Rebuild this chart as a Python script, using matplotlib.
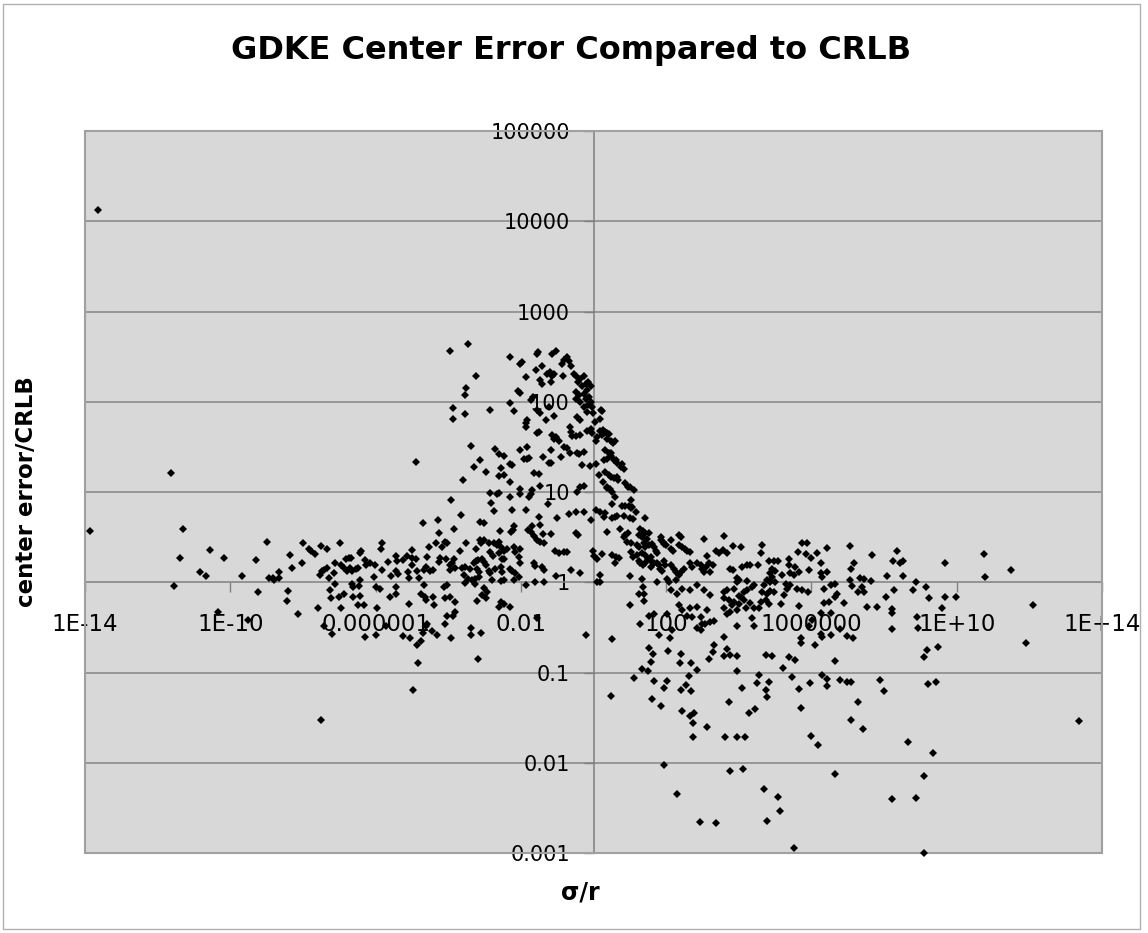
import matplotlib
matplotlib.use("Agg")
import matplotlib.pyplot as plt
import numpy as np
from matplotlib.patches import Rectangle

# log10(sigma/r) and log10(center error / CRLB)
log_sigma_r = [
    -13.64,
    -11.64, -13.87, -11.29, -11.38, -10.55, -10.18, -10.83, -10.66, -11.54, -9.69, -9.30, -8.98, -9.24, -8.93, -8.83, -8.79, -8.65, -8.65, -10.35, -9.50,
    -3.95, -3.46, -3.23, -3.52, -3.54, -3.86, -3.86, -3.55, -3.36, -3.30, -3.13, -4.88, -3.59, -3.91, -3.64, -4.70, -4.29, -4.24, -3.83, -3.13,
    -7.99, -7.84, -7.78, -7.68, -7.51, -7.35, -6.98, -5.82, -5.84, -8.35, -8.30, -8.03, -8.40, -7.43, -7.47, -7.35, -7.52, -7.29, -7.15, -7.12,
    -6.94, -6.81, -6.74, -6.67, -6.88, -6.79, -6.71, -6.65, -6.54, -6.48, -6.41, -6.44, -6.28, -6.25, -6.16, -6.01, -5.82, -5.67, -5.57, -5.45,
    -5.41, -5.44, -5.39, -5.24, -5.13, -5.01, -4.99, -4.89, -5.00, -4.87, -5.11, -5.09, -4.81, -4.67, -4.58, -4.54, -4.60, -4.51, -4.42, -4.34,
    -4.26, -4.22, -4.16, -4.10, -4.03, -4.07, -3.96, -3.90, -3.85, -3.94, -3.82, -3.68, -3.62, -3.53, -3.51, -3.39, -3.23, -3.19, -3.13, -3.24,
    -3.57, -3.46, -3.34, -3.25, -3.15, -7.11, -6.88, -6.62, -6.45, -6.42, -6.65, -6.05, -5.87, -5.98, -5.59, -5.45, -4.67, -4.75, -4.63, -4.12,
    -4.03, -4.42, -3.94, -3.53, -3.26, -7.24, -6.63, -7.01, -6.42, -7.26,
    -8.14, -7.58, -6.49, -6.33, -6.94, -7.43, -7.20, -6.28, -5.98, -5.96, -5.70, -5.44, -5.09, -5.24, -5.04, -4.86, -4.75, -4.69, -4.84, -4.97,
    -7.49, -4.60, -4.38, -4.09, -3.80, -4.58, -4.61, -4.44, -4.31, -4.08, -4.03, -3.87, -3.80, -3.91, -3.37, -3.37, -3.19, -3.21, -8.44,
    -2.30, -1.98, -2.01, -1.53, -1.55, -1.14, -1.02, -0.73, -0.80, -0.86, -0.68, -0.63, -1.41, -1.57, -1.46, -1.41, -1.28, -1.20, -1.14, -1.09,
    -1.18, -1.85, -2.07, -2.01, -0.84,
    -0.54, -0.47, -0.43, -0.36, -0.27, -0.31, -0.22, -0.16, -0.08, -0.17, -0.27, -0.47, -0.40, -0.47, -0.36, -0.22, -0.13, -0.08, -0.16, -0.04,
    -0.01, -0.19, -0.27, -0.45, -0.36, -0.08, -0.17, 0.03, -0.04,
    -1.66, -1.73, -1.55, -1.46, -1.32, -1.09, -1.23,
    -2.30, -2.19, -2.84, -1.83, -1.85, -1.87, -1.55, -1.51, -1.14, -1.02, -0.96, -1.09, -0.65, -0.63, -0.59, -0.47, -0.38, -0.80, -0.73, -1.18,
    -0.89, -0.65, -0.45, -0.40, -0.27, 0.06, 0.10,
    -2.03, -1.83, -1.92, -1.83, -1.78, -2.70, -2.61, -2.47, -2.29, -2.24, -2.97, -2.56, -2.47, -2.61, -1.64, -1.51, -1.39, -1.23, -1.18, -0.31,
    -0.10, 0.06, -2.29, -1.46, -2.84, -2.65, -2.61, -2.29, -2.01, -2.01, -1.78, -1.73, -1.69, -2.82, -1.26, -0.45, -0.36, -0.27, 0.15,
    -2.73, -2.24, -1.87, -1.50, -1.00, -0.68, -0.47, -0.27, -0.06, 0.08,
    -3.02, -2.19, -2.27, -2.21, -2.58, -1.69, -1.73, -1.81, -1.46, -1.64, -1.55, -1.48, -1.35, -1.39, -1.18, -0.47, -0.43, -1.05, -0.96, -0.82,
    -0.73, -0.01, 0.01, 0.10,
    -3.02, -3.11, -2.88, -2.74, -2.61, -2.67, -2.56, -2.47, -2.38, -2.19, -2.15, -2.01, -2.06, -2.84, -2.76, -2.61, -2.51, -2.47,
    -3.07, -3.02, -2.95, -3.29, -3.20, -3.16, -2.88, -2.84, -2.70, -2.54, -2.51, -2.29, -2.24, -2.15, -2.06, -2.19, -2.01, -1.64, -1.60, -1.41,
    -1.35, -1.02, -0.63, -0.36,
    -2.79, -2.54, -2.47, -1.87, -1.60, -1.35, -3.02, -2.93, -3.07, -2.97, -2.56, -2.47, -2.30, -2.61, -1.55, -3.11, -0.22, 0.10,
    0.21, 0.24, 0.19, 0.19, 0.27, 0.33, 0.28, 0.38, 0.42, 0.24, 0.36, 0.47, 0.54, 0.58,
    0.33, 0.42, 0.49, 0.36, 0.28, 0.47, 0.56, 0.61, 0.65, 0.79, 0.84, 0.76,
    0.33, 0.42, 0.49, 0.56, 0.65, 0.67,
    0.27, 0.38, 0.36, 0.45, 0.51, 0.58, 0.51,
    0.88, 0.95, 1.00, 1.11,
    0.79, 0.88, 0.97, 1.02, 1.06, 1.02,
    0.19, 0.33, 0.28, 0.51, 0.58, 0.65, 0.84, 1.00, 1.09, 1.18, 1.43,
    0.36, 0.74, 0.88, 0.95, 0.84, 1.02, 0.93,
    1.29, 1.37, 1.43, 1.52, 1.25, 1.34, 1.48,
    1.85, 1.86, 1.92, 1.94, 2.12, 2.35, 2.40, 3.04,
    1.20, 1.25, 1.39, 1.43, 1.52, 1.62, 1.66, 1.71, 1.75,
    1.99, 2.14, 2.19, 2.35, 2.44, 2.53, 2.58, 2.67,
    1.02, 1.09, 1.20, 1.25, 1.34, 1.43, 1.50, 1.57, 1.62,
    0.51, 0.61, 0.70, 0.58, 0.24,
    1.28, 1.37, 1.43, 1.57, 1.66, 1.75, 1.80, 1.84, 1.89,
    1.94, 1.98, 2.12, 2.21, 2.26, 2.35, 2.40, 2.49, 2.67, 2.72, 2.85, 2.95, 2.99, 3.04, 3.11, 3.18, 3.22, 3.29, 3.36, 3.45, 3.13,
    0.19, 0.19, 1.00, 1.34, 1.37, 1.75, 2.01, 2.07, 2.26,
    1.39, 1.25, 2.12, 2.30, 2.44, 2.67, 2.85, 3.04, 3.22,
    1.00, 1.39, 1.28, 1.52, 1.66, 2.03, 2.35, 2.44, 2.58, 2.67, 2.72, 2.85, 2.95, 3.13, 2.99, 3.08, 3.22, 3.33, 2.85, 2.95,
    2.17, 1.80, 2.10, 0.51, 1.52, 1.64, 2.05, 2.41, 1.59, 1.34, 1.50, 2.38, 2.69, 2.85, 3.18, 3.29, 3.33, 1.11, 1.66, 2.03,
    1.94, 2.62, 2.56, 2.41, 2.69, 0.49, 1.62, 1.86, 2.44, 2.67, 2.78, 2.74, 3.13, 2.74, 1.94, 2.29, 2.93, 3.36,
    3.59, 3.57, 3.68, 3.85, 4.05, 4.64, 4.60, 5.75, 5.87, 5.63, 5.84, 6.16, 5.99, 6.43, 7.06, 7.67, 8.36,
    3.77, 3.85, 4.09, 4.23, 4.32, 4.52, 4.83, 4.97, 5.08, 4.92, 5.01, 4.87, 4.92, 5.19, 5.01,
    5.38, 5.38, 5.56, 5.42, 5.52, 5.65, 5.93, 6.25, 6.27, 6.43, 6.30,
    7.17, 7.09, 7.06, 7.33, 7.44, 7.63, 8.09, 8.25, 8.45,
    3.96, 4.00, 4.23, 3.96,
    4.41, 4.69, 4.78, 4.87, 5.29, 5.33, 5.42,
    3.59, 3.68, 3.86, 4.00, 4.05, 4.14, 4.37, 4.23,
    4.64, 4.78, 4.87, 4.97, 4.74, 4.83, 4.60, 4.41, 4.55, 4.32,
    3.59, 3.73, 3.86, 3.82, 4.00, 4.14, 4.19, 3.77, 3.96,
    3.59, 3.68, 4.37, 4.41, 3.96, 3.59,
    5.15, 5.24, 5.61, 5.75, 5.90, 5.65, 6.02, 5.93, 5.70, 5.72, 6.11,
    6.34, 6.53, 6.66, 6.66, 6.71, 6.34, 6.48, 6.89, 6.25, 6.53,
    6.25, 6.30, 6.53, 6.80, 6.98, 7.15,
    7.12, 7.28, 7.44, 7.40, 7.53, 7.81, 8.04, 8.27, 8.22, 8.22, 8.22,
    3.68, 3.59, 3.77, 3.94, 3.94, 4.74, 4.92, 5.38, 5.56, 5.22, 6.64,
    4.55, 4.49, 4.83, 4.08, 4.74, 4.78, 5.47, 5.96, 5.65, 6.30, 6.43, 6.43, 6.80, 6.98, 7.09, 7.88, 7.99,
    3.72, 4.28, 4.44, 5.70, 7.29, 7.10, 7.43, 3.63, 3.94, 4.16, 5.98, 6.18, 3.75, 4.12, 6.64, 4.69, 5.08, 5.13, 4.78, 8.22, 5.53,
    8.52, 10.75, 9.67, 10.77, 11.50, 8.87, 8.79, 9.16, 9.23, 9.67, 9.98, 9.60, 12.09, 8.91, 8.94, 11.92, 9.49, 9.17, 9.10, 9.22, 9.44, 8.53,
    13.38, 8.67, 9.36, 9.11, 8.87, 9.10,
]

log_error_ratio = [
    4.13,
    1.21, 0.57, 0.59, 0.27, 0.36, 0.27, 0.11, 0.07, -0.04, 0.07, 0.25, 0.45, -0.11, 0.05, 0.05, 0.02, 0.11, 0.05, -0.33, -0.42,
    2.56, 2.64, 2.29, 2.15, 2.07, 1.93, 1.81, 1.86, 1.51, 1.28, 1.36, 1.33, 1.13, 0.91, 0.74, 0.66, 0.69, 0.55, 0.59, 0.67,
    0.44, 0.37, 0.35, 0.31, 0.40, 0.37, 0.44, 0.43, 0.37, 0.30, 0.16, 0.21, -0.10, 0.14, 0.13, 0.16, 0.08, 0.05, 0.10, 0.21,
    0.19, 0.26, 0.27, 0.27, 0.16, 0.13, 0.16, 0.13, 0.15, 0.16, 0.35, 0.32, 0.25, 0.19, 0.21, 0.19, 0.14, 0.22, 0.07, 0.29,
    0.23, 0.13, 0.09, 0.25, 0.29, 0.36, 0.27, 0.26, 0.19, 0.13, 0.11, 0.05, 0.05, 0.14, 0.28, 0.39, 0.17, 0.13, 0.14, 0.43,
    0.22, 0.27, 0.39, 0.45, 0.43, 0.26, 0.19, 0.21, 0.26, 0.14, 0.16, 0.35, 0.16, 0.17, 0.43, 0.15, 0.37, 0.25, 0.47, 0.23,
    0.08, 0.04, 0.02, 0.04, 0.06, -0.02, -0.13, -0.05, -0.04, 0.02, -0.02, 0.06, -0.08, -0.05, -0.16, -0.05, -0.03, -0.13, -0.16, -0.05,
    -0.03, -0.16, -0.16, -0.01, -0.02, -0.18, -0.16, -0.16, -0.15, -0.09,
    -0.35, -0.28, -0.25, -0.25, -0.29, -0.49, -0.57, -0.61, -0.59, -0.29, -0.49, -0.13, -0.24, -0.60, -0.62, -0.70, -0.65, -0.56, -0.89, -1.19,
    -1.53, -0.20, -0.25, -0.17, -0.22, -0.46, -0.49, -0.54, -0.59, -0.46, -0.37, -0.37, -0.33, -0.62, -0.51, -0.58, -0.85, -0.21, -0.21,
    2.50, 2.44, 2.42, 2.55, 2.53, 2.53, 2.56, 2.50, 2.46, 2.42, 2.45, 2.40, 2.40, 2.35, 2.24, 2.20, 2.31, 2.33, 2.29, 2.31,
    2.22, 2.27, 2.12, 2.10, 2.29,
    2.31, 2.28, 2.22, 2.25, 2.29, 2.18, 2.20, 2.22, 2.18, 2.13, 2.09, 2.11, 2.07, 2.03, 2.00, 2.03, 2.05, 2.00, 1.96, 1.94,
    1.87, 1.89, 1.94, 1.83, 1.80, 1.70, 1.68, 1.78, 1.65,
    2.05, 2.02, 1.91, 1.87, 1.80, 1.84, 1.94,
    1.99, 1.90, 1.91, 1.80, 1.76, 1.72, 1.65, 1.66, 1.63, 1.61, 1.57, 1.59, 1.72, 1.67, 1.62, 1.62, 1.63, 1.50, 1.49, 1.47,
    1.39, 1.43, 1.43, 1.42, 1.44, 1.57, 1.61,
    1.46, 1.50, 1.37, 1.37, 1.38, 1.48, 1.42, 1.40, 1.31, 1.30, 1.22, 1.27, 1.19, 1.18, 1.21, 1.20, 1.39, 1.32, 1.32, 1.30,
    1.29, 1.31, 1.11, 1.07, 0.99, 0.98, 0.99, 0.94, 1.03, 0.98, 0.94, 0.98, 1.02, 0.88, 0.87, 1.00, 1.06, 1.07, 1.19,
    0.79, 0.80, 0.80, 0.72, 0.71, 0.76, 0.78, 0.78, 0.69, 0.80,
    0.66, 0.62, 0.56, 0.58, 0.57, 0.62, 0.56, 0.58, 0.63, 0.51, 0.47, 0.45, 0.43, 0.54, 0.54, 0.55, 0.52, 0.35, 0.32, 0.34,
    0.34, 0.35, 0.29, 0.26,
    0.47, 0.43, 0.43, 0.44, 0.45, 0.41, 0.39, 0.35, 0.37, 0.39, 0.34, 0.37, 0.28, 0.34, 0.29, 0.32, 0.26, 0.26,
    0.26, 0.22, 0.19, 0.21, 0.15, 0.11, 0.13, 0.10, 0.15, 0.17, 0.11, 0.15, 0.13, 0.10, 0.06, 0.03, 0.21, 0.21, 0.18, 0.17,
    0.14, 0.07, 0.14, 0.10,
    0.02, 0.01, 0.03, -0.03, 0.00, 0.00, -0.06, -0.11, -0.14, -0.18, -0.22, -0.24, -0.27, -0.27, -0.40, -0.56, -0.59, 0.00,
    1.91, 1.90, 1.81, 1.68, 1.69, 1.67, 1.65, 1.65, 1.64, 1.63, 1.59, 1.57, 1.54, 1.57,
    1.46, 1.43, 1.43, 1.37, 1.35, 1.40, 1.35, 1.36, 1.32, 1.31, 1.25, 1.28,
    1.22, 1.19, 1.17, 1.15, 1.17, 1.13,
    1.11, 1.06, 1.04, 1.03, 1.00, 0.95, 0.87,
    1.10, 1.06, 1.05, 1.02,
    0.85, 0.85, 0.84, 0.91, 0.83, 0.82,
    0.78, 0.77, 0.72, 0.71, 0.72, 0.73, 0.73, 0.71, 0.70, 0.78, 0.71,
    0.56, 0.59, 0.52, 0.55, 0.50, 0.43, 0.45,
    0.59, 0.57, 0.55, 0.55, 0.52, 0.50, 0.48,
    0.50, 0.47, 0.45, 0.42, 0.47, 0.52, 0.50, 0.48,
    0.41, 0.39, 0.43, 0.39, 0.41, 0.42, 0.39, 0.35, 0.32,
    0.41, 0.37, 0.35, 0.41, 0.39, 0.37, 0.35, 0.34,
    0.33, 0.28, 0.30, 0.24, 0.32, 0.30, 0.26, 0.28, 0.22,
    0.30, 0.28, 0.27, 0.21, 0.31,
    0.21, 0.19, 0.21, 0.17, 0.21, 0.21, 0.19, 0.15, 0.13,
    0.24, 0.19, 0.19, 0.15, 0.11, 0.08, 0.11, 0.15, 0.21, 0.17, 0.21, 0.19, 0.15, 0.11, 0.17, 0.21, 0.11, 0.19, 0.35, 0.32, 0.29,
    0.08, 0.00, 0.07, 0.04, -0.05, 0.00, 0.04, 0.00, 0.02,
    -0.13, -0.13, -0.09, -0.13, -0.07, -0.09, -0.03, -0.09, -0.14,
    -0.25, -0.21, -0.46, -0.37, -0.35, -0.35, -0.25, -0.31, -0.37, -0.28, -0.38, -0.27, -0.38, -0.31, -0.46, -0.46, -0.44, -0.43, -0.51, -0.53,
    -0.53, -0.59, -0.62, -0.63, -0.73, -0.79, -0.76, -0.80, -0.88, -0.96, -0.98, -0.90, -0.89, -0.97, -0.85, -0.77, -0.70, -1.06, -1.09, -1.09,
    -1.17, -1.04, -1.14, -1.19, -1.20, -1.26, -1.29, -1.37, -1.43, -1.48, -1.45, -1.56, -1.60, -1.71, -2.02, -2.35, -2.66, -2.67,
    0.51, 0.36, 0.32, 0.40, 0.39, 0.41, 0.32, 0.44, 0.43, 0.34, 0.31, 0.32, 0.27, 0.38, 0.40, 0.30, 0.35,
    0.15, 0.14, 0.17, 0.19, 0.19, 0.19, 0.24, 0.23, 0.23, 0.15, 0.13, 0.10, 0.06, 0.08, 0.00,
    0.26, 0.19, 0.17, 0.10, 0.08, 0.11, 0.14, 0.21, 0.10, 0.11, 0.06,
    0.21, 0.15, 0.03, 0.05, 0.04, 0.01, 0.07, 0.23, 0.21,
    0.05, 0.02, 0.01, 0.00,
    -0.03, -0.03, 0.02, 0.00, -0.02, -0.07, -0.03,
    -0.11, -0.09, -0.08, -0.15, -0.16, -0.11, -0.05, -0.09,
    -0.11, -0.13, -0.10, -0.11, -0.20, -0.24, -0.22, -0.28, -0.28, -0.23,
    -0.18, -0.20, -0.22, -0.25, -0.24, -0.20, -0.29, -0.33, -0.31,
    -0.29, -0.35, -0.40, -0.48, -0.49, -0.61,
    -0.24, -0.14, -0.08, -0.09, -0.11, -0.26, -0.42, -0.49, -0.62, -0.67, -0.69,
    -0.08, -0.03, -0.02, -0.16, -0.13, -0.23, -0.22, -0.23, -0.34, -0.34,
    -0.57, -0.61, -0.59, -0.52, -0.60, -0.62,
    -0.04, -0.11, -0.11, -0.05, -0.27, -0.27, -0.16, -0.09, -0.30, -0.34, -0.52,
    -0.74, -0.82, -0.81, -0.82, -0.98, -0.81, -0.82, -0.83, -0.86, -0.95, -0.87,
    -1.03, -1.12, -1.10, -1.17, -1.19, -1.27, -1.05, -1.12, -1.18, -1.03, -1.07, -1.15, -1.08, -1.10, -1.10, -1.08, -1.20,
    -1.33, -1.45, -1.40, -1.39, -1.33, -1.53, -1.63, -1.71, -1.72, -1.71, -1.70, -1.80, -2.09, -2.07, -2.12, -2.29, -2.38, -2.53, -2.64, -2.40, -2.94,
    0.07, 0.31, 0.21, 0.06, 0.14, 0.00, -0.09, -0.05, -0.18, -0.16, -0.16, -0.28, -0.25, -0.38, -0.51, -0.67, -0.72, -0.75, -0.83, -1.13, -1.10, 0.24,
    -1.54, -1.77, -1.89, -2.15, -2.39, -3.00,
]

x_tick_values = [1e-14, 1e-10, 1e-6, 1e-2, 1e2, 1e6, 1e10, 1e14]
x_tick_labels = ["1E-14", "1E-10", "0.000001", "0.01", "100", "1000000", "1E+10", "1E+14"]
y_tick_values = [1e-3, 1e-2, 1e-1, 1, 10, 100, 1000, 10000, 100000]
y_tick_labels = ["0.001", "0.01", "0.1", "1", "10", "100", "1000", "10000", "100000"]

title = "GDKE Center Error Compared to CRLB"
x_label = "σ/r"
y_label = "center error/CRLB"

n = min(len(log_sigma_r), len(log_error_ratio))
sigma_r = 10.0 ** np.array(log_sigma_r[:n])
error_ratio = 10.0 ** np.array(log_error_ratio[:n])

W, H = 1148, 933
fig = plt.figure(figsize=(W / 100, H / 100), dpi=100)
fig.patch.set_facecolor("white")

L, R, T, B = 85, 1102, 131, 853
ax = fig.add_axes([L / W, 1 - B / H, (R - L) / W, (B - T) / H])
ax.set_facecolor("#d8d8d8")
ax.set_xscale("log")
ax.set_yscale("log")
ax.set_xlim(1e-14, 1e14)
ax.set_ylim(1e-3, 1e5)

for yv in y_tick_values:
    if yv != 1:
        ax.axhline(yv, color="#858585", lw=1.1, zorder=1)

ax.spines["left"].set_position(("data", 1))
ax.spines["bottom"].set_position(("data", 1))
ax.spines["top"].set_visible(False)
ax.spines["right"].set_visible(False)
for s in ("left", "bottom"):
    ax.spines[s].set_color("#808080")
    ax.spines[s].set_linewidth(1.1)
ax.add_patch(Rectangle((0, 0), 1, 1, transform=ax.transAxes, fill=False,
                       ec="#a0a0a0", lw=1.5, zorder=4, clip_on=False))

ax.set_xticks(x_tick_values, x_tick_labels)
ax.set_yticks(y_tick_values, y_tick_labels)
ax.minorticks_off()
ax.tick_params(axis="x", direction="out", length=7, width=1, color="#808080",
               pad=15, labelsize=16.5)
ax.tick_params(axis="y", direction="out", length=7, width=1, color="#808080",
               pad=10, labelsize=15)

ax.plot(sigma_r, error_ratio, linestyle="none", marker="D", color="black",
        markersize=4.0, markeredgewidth=0, zorder=5, clip_on=False)

fig.text(571 / W, 1 - 50 / H, title, ha="center", va="center",
         fontsize=23, fontweight="bold")
fig.text(27 / W, 1 - 492 / H, y_label, ha="center", va="center",
         rotation=90, fontsize=16.5, fontweight="bold")
fig.text(580 / W, 1 - 893 / H, x_label, ha="center", va="center",
         fontsize=17, fontweight="bold")

fig.patches.append(Rectangle((3 / W, 4 / H), 1137 / W, 925 / H,
                             transform=fig.transFigure, fill=False,
                             ec="#b0b0b0", lw=1))

fig.savefig("out.png", dpi=100)
